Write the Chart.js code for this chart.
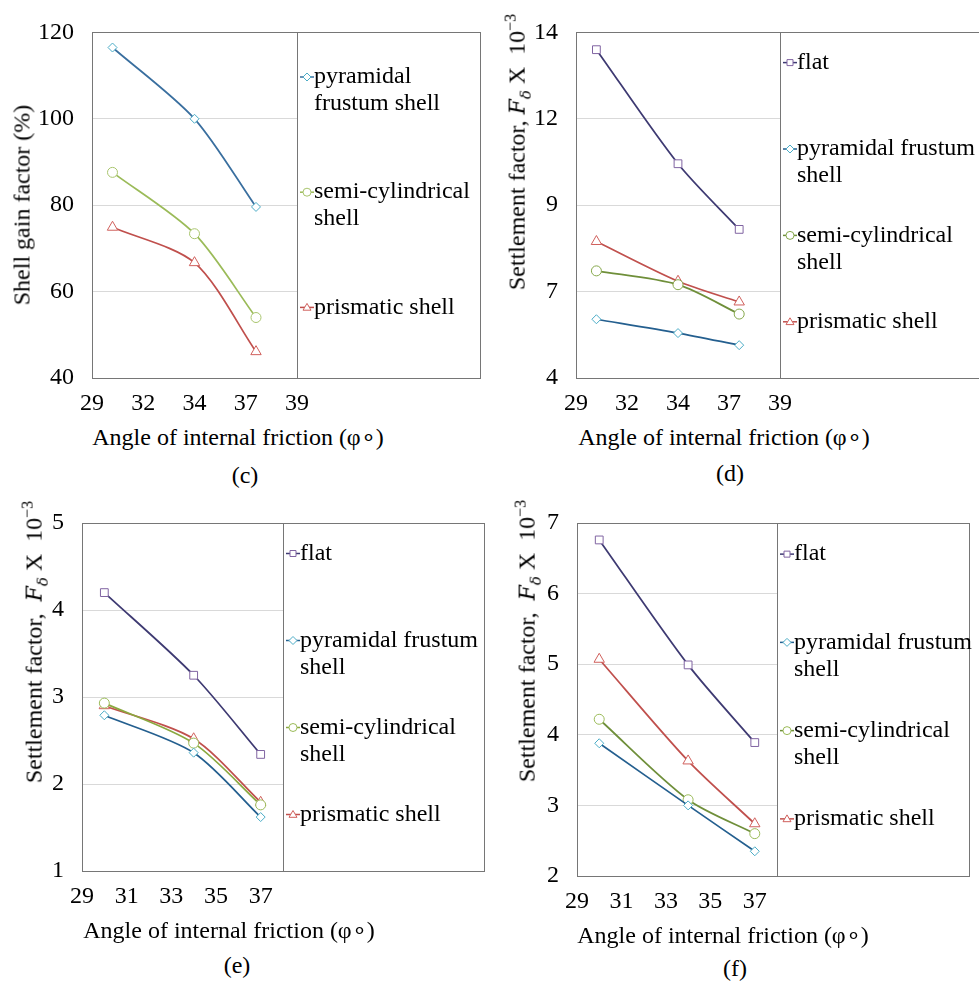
<!DOCTYPE html>
<html>
<head>
<meta charset="utf-8">
<script src="https://cdn.jsdelivr.net/npm/chart.js@4.4.0/dist/chart.umd.min.js"></script>
<style>
  body { margin: 0; background: #fff; width: 979px; height: 981px; overflow: hidden; position: relative;
         font-family: "Liberation Serif", "Times New Roman", serif; color: #000; }
  canvas { position: absolute; }
  .txt { position: absolute; font-size: 24px; white-space: nowrap; transform: translate(-50%, -50%); }
  .ytitle { transform: translate(-50%, -50%) rotate(-90deg); }
  .ytitle i { font-family: "DejaVu Serif", serif; font-size: 22px; }
  .ytitle sub { font-style: italic; font-family: "DejaVu Serif", serif; font-size: 15px; }
  .ytitle sup { font-size: 16px; }
</style>
</head>
<body>
<canvas id="chartC" width="490" height="420" style="left:0;top:0"></canvas>
<canvas id="chartD" width="489" height="420" style="left:490px;top:0"></canvas>
<canvas id="chartE" width="490" height="430" style="left:0;top:490px"></canvas>
<canvas id="chartF" width="489" height="430" style="left:490px;top:490px"></canvas>

<div class="txt ytitle" style="left:22px;top:205px">Shell gain factor (%)</div>
<div class="txt ytitle" style="left:518px;top:152px">Settlement factor, <i>F</i><sub>δ</sub> X&nbsp; 10<sup>−3</sup></div>
<div class="txt ytitle" style="left:35px;top:642px">Settlement factor,&nbsp; <i>F</i><sub>δ</sub> X&nbsp; 10<sup>−3</sup></div>
<div class="txt ytitle" style="left:528px;top:641px">Settlement factor,&nbsp; <i>F</i><sub>δ</sub> X&nbsp; 10<sup>−3</sup></div>

<div class="txt" style="left:238px;top:437px">Angle of internal friction (φ∘)</div>
<div class="txt" style="left:724px;top:437px">Angle of internal friction (φ∘)</div>
<div class="txt" style="left:229px;top:930px">Angle of internal friction (φ∘)</div>
<div class="txt" style="left:723px;top:935px">Angle of internal friction (φ∘)</div>

<div class="txt" style="left:245px;top:475px">(c)</div>
<div class="txt" style="left:730px;top:473px">(d)</div>
<div class="txt" style="left:237px;top:965px">(e)</div>
<div class="txt" style="left:735px;top:968px">(f)</div>

<script>
// angle of internal friction (degrees)
const frictionAngles = [30, 34, 37];

// (c) shell gain factor (%)
const gainPyramidal = [116.5, 100.0, 79.6];
const gainSemiCyl   = [87.6, 73.4, 54.0];
const gainPrismatic = [74.9, 66.7, 46.1];

// (d) settlement factor x 10^-3
const settleDFlat      = [13.5, 10.2, 8.3];
const settleDPyramidal = [5.7, 5.3, 4.95];
const settleDSemiCyl   = [7.1, 6.7, 5.85];
const settleDPrismatic = [7.95, 6.8, 6.2];

// (e) settlement factor x 10^-3
const settleEFlat      = [4.2, 3.25, 2.34];
const settleEPyramidal = [2.79, 2.36, 1.62];
const settleESemiCyl   = [2.93, 2.47, 1.76];
const settleEPrismatic = [2.9, 2.52, 1.79];

// (f) settlement factor x 10^-3
const settleFFlat      = [6.76, 4.99, 3.89];
const settleFPyramidal = [3.88, 3.0, 2.35];
const settleFSemiCyl   = [4.22, 3.08, 2.6];
const settleFPrismatic = [5.07, 3.63, 2.74];

// tick positions (excel shows them rounded)
const xTicksWide   = [29, 31.5, 34, 36.5, 39];
const xTicksNarrow = [29, 31, 33, 35, 37];
const yTicksC = [40, 60, 80, 100, 120];
const yTicksD = [4, 6.5, 9, 11.5, 14];
const yTicksE = [1, 2, 3, 4, 5];
const yTicksF = [2, 3, 4, 5, 6, 7];

const names = ['flat', 'pyramidal frustum shell', 'semi-cylindrical shell', 'prismatic shell'];

const FONT = '"Liberation Serif", "Times New Roman", serif';
const radius = { rect: 5.5, rectRot: 4.5, circle: 5, triangle: 6 };

function series(label, values, line, mark, style) {
  return {
    label,
    data: frictionAngles.map((x, i) => ({ x, y: values[i] })),
    borderColor: line,
    borderWidth: 1.75,
    pointStyle: style,
    pointRadius: radius[style],
    pointBorderColor: mark,
    pointBackgroundColor: '#fff',
    pointBorderWidth: 1,
    tension: 0.28,
    fill: false
  };
}

function drawMarker(ctx, style, x, y, r) {
  ctx.beginPath();
  if (style === 'circle') {
    ctx.arc(x, y, r, 0, Math.PI * 2);
  } else if (style === 'rect') {
    ctx.rect(x - r * 0.75, y - r * 0.75, r * 1.5, r * 1.5);
  } else if (style === 'rectRot') {
    ctx.moveTo(x, y - r); ctx.lineTo(x + r, y); ctx.lineTo(x, y + r); ctx.lineTo(x - r, y);
    ctx.closePath();
  } else {
    ctx.moveTo(x, y - r); ctx.lineTo(x + r, y + r * 0.7); ctx.lineTo(x - r, y + r * 0.7);
    ctx.closePath();
  }
  ctx.fill();
  ctx.stroke();
}

function wrapText(ctx, text, maxWidth) {
  const words = text.split(' ');
  const lines = [];
  let cur = '';
  words.forEach(w => {
    const test = cur ? cur + ' ' + w : w;
    if (cur && ctx.measureText(test).width > maxWidth) {
      lines.push(cur);
      cur = w;
    } else {
      cur = test;
    }
  });
  lines.push(cur);
  return lines;
}

// plot frame plus the excel style boxed legend on the right
const boxLegend = {
  id: 'boxLegend',
  afterDraw(chart, args, opts) {
    const { ctx, chartArea: a } = chart;
    const L = Math.round(a.left) + 0.5, T = Math.round(a.top) + 0.5;
    const R = Math.round(a.right) + 0.5, B = Math.round(a.bottom) + 0.5;
    ctx.save();
    ctx.strokeStyle = '#767676';
    ctx.lineWidth = 1;
    ctx.strokeRect(L, T, R - L, B - T);
    ctx.strokeRect(R, T, opts.right - R, B - T);

    ctx.font = '24px ' + FONT;
    ctx.textAlign = 'left';
    ctx.textBaseline = 'middle';
    const sets = chart.data.datasets;
    const slot = (a.bottom - a.top) / sets.length;
    sets.forEach((ds, i) => {
      const y = a.top + slot * (i + 0.5) - 13;
      const mx = a.right + 10;
      ctx.strokeStyle = ds.borderColor;
      ctx.lineWidth = 1.5;
      ctx.beginPath();
      ctx.moveTo(mx - 7, y);
      ctx.lineTo(mx + 7, y);
      ctx.stroke();
      ctx.strokeStyle = ds.pointBorderColor;
      ctx.fillStyle = '#fff';
      ctx.lineWidth = 1;
      drawMarker(ctx, ds.pointStyle, mx, y, 4);
      ctx.fillStyle = '#000';
      wrapText(ctx, ds.label, opts.wrap).forEach((t, k) => {
        ctx.fillText(t, a.right + 17, y + k * 27);
      });
    });
    ctx.restore();
  }
};

function makeChart(id, datasets, cfg) {
  const tickFont = { family: FONT, size: 24 };
  new Chart(document.getElementById(id), {
    type: 'line',
    data: { datasets },
    options: {
      responsive: false,
      animation: false,
      events: [],
      layout: { padding: { top: cfg.top, right: cfg.padRight, left: 0, bottom: 0 } },
      plugins: {
        legend: { display: false },
        tooltip: { enabled: false },
        boxLegend: { right: cfg.legendRight, wrap: cfg.wrap }
      },
      scales: {
        x: {
          type: 'linear',
          min: cfg.xTicks[0],
          max: cfg.xMax,
          afterBuildTicks: s => { s.ticks = cfg.xTicks.map(v => ({ value: v })); },
          afterFit: s => { s.height = cfg.xHeight; },
          ticks: { callback: v => Math.round(v), font: tickFont, color: '#000', padding: 11,
                   autoSkip: false, maxRotation: 0 },
          grid: { display: false, drawTicks: false },
          border: { display: false }
        },
        y: {
          type: 'linear',
          min: cfg.yTicks[0],
          max: cfg.yTicks[cfg.yTicks.length - 1],
          afterBuildTicks: s => { s.ticks = cfg.yTicks.map(v => ({ value: v })); },
          afterFit: s => { s.width = cfg.yWidth; },
          ticks: { callback: v => Math.round(v), font: tickFont, color: '#000', padding: 18 },
          grid: { color: '#d9d9d9', drawTicks: false },
          border: { display: false }
        }
      }
    },
    plugins: [boxLegend]
  });
}

makeChart('chartC', [
  series(names[1], gainPyramidal, '#3a6f9f', '#4bacc6', 'rectRot'),
  series(names[2], gainSemiCyl, '#9bbb59', '#a9c56e', 'circle'),
  series(names[3], gainPrismatic, '#c0504d', '#d0605c', 'triangle')
], { top: 23, padRight: 193, yWidth: 92, xHeight: 42, xTicks: xTicksWide, xMax: 39,
     yTicks: yTicksC, legendRight: 480.5, wrap: 170 });

makeChart('chartD', [
  series(names[0], settleDFlat, '#3e3a72', '#8064a2', 'rect'),
  series(names[1], settleDPyramidal, '#245f8f', '#4bacc6', 'rectRot'),
  series(names[2], settleDSemiCyl, '#6f8f3a', '#86a84c', 'circle'),
  series(names[3], settleDPrismatic, '#c0504d', '#d0605c', 'triangle')
], { top: 29, padRight: 199, yWidth: 86, xHeight: 42, xTicks: xTicksWide, xMax: 39,
     yTicks: yTicksD, legendRight: 510, wrap: 200 });

makeChart('chartE', [
  series(names[0], settleEFlat, '#3e3a72', '#8064a2', 'rect'),
  series(names[1], settleEPyramidal, '#245f8f', '#4bacc6', 'rectRot'),
  series(names[2], settleESemiCyl, '#8aa83f', '#9bbb59', 'circle'),
  series(names[3], settleEPrismatic, '#c0504d', '#d0605c', 'triangle')
], { top: 33, padRight: 207, yWidth: 82, xHeight: 49, xTicks: xTicksNarrow, xMax: 38,
     yTicks: yTicksE, legendRight: 484.5, wrap: 190 });

makeChart('chartF', [
  series(names[0], settleFFlat, '#3e3a72', '#8064a2', 'rect'),
  series(names[1], settleFPyramidal, '#245f8f', '#4bacc6', 'rectRot'),
  series(names[2], settleFSemiCyl, '#6f8f3a', '#9bbb59', 'circle'),
  series(names[3], settleFPrismatic, '#c0504d', '#d0605c', 'triangle')
], { top: 33, padRight: 202, yWidth: 87, xHeight: 44, xTicks: xTicksNarrow, xMax: 38,
     yTicks: yTicksF, legendRight: 479.5, wrap: 190 });
</script>
</body>
</html>
